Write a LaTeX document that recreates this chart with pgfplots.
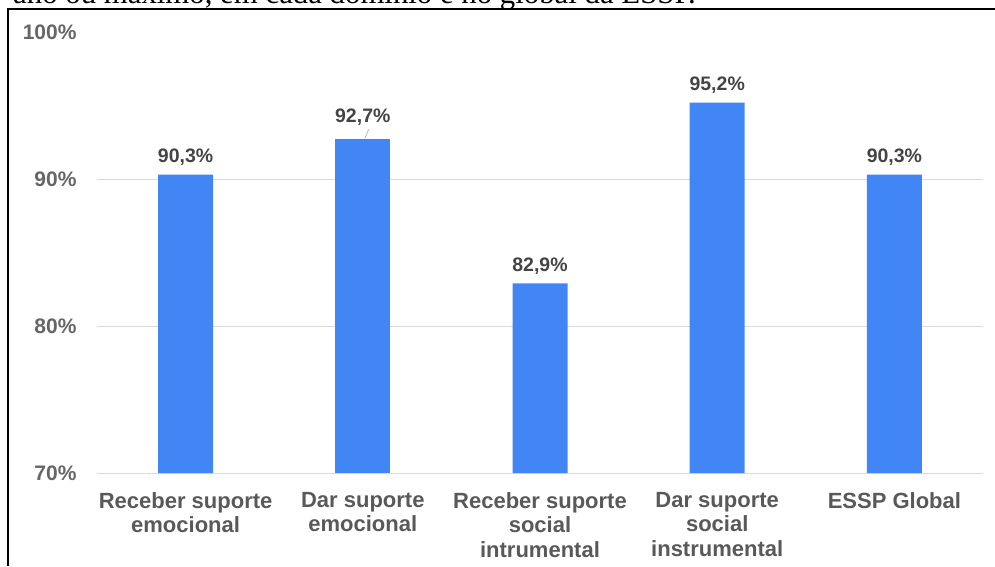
\documentclass[border=0pt]{standalone}
\usepackage{pgfplots}
\pgfplotsset{compat=1.18}
\usepackage{fontspec}
\setmainfont{Liberation Sans}
\newfontfamily\serifface{Liberation Serif}
\definecolor{barblue}{HTML}{4285F4}
\definecolor{tickgray}{HTML}{666666}
\definecolor{labgray}{HTML}{595959}
\definecolor{valgray}{HTML}{444444}
\definecolor{gridgray}{HTML}{D9D9D9}
\begin{document}
\begin{tikzpicture}[x=1pt,y=1pt]
\useasboundingbox (0,0) rectangle (995,566);
\node[anchor=base west, inner sep=0] at (13,562) {\serifface\fontsize{30.8}{34}\selectfont ano ou máximo, em cada domínio e no global da ESSP.};
\draw[line width=1.6pt] (8,0) -- (8,557) -- (995,557);
\begin{axis}[
  at={(97pt,93pt)}, anchor=south west,
  width=886pt, height=441pt, scale only axis,
  xmin=-0.5, xmax=4.5, ymin=70, ymax=100,
  axis line style={draw=none}, tick style={draw=none},
  major tick length=0pt,
  ymajorgrids, grid style={gridgray, line width=1pt},
  ytick={70,80,90}, yticklabels={70\%,80\%,90\%},
  extra y ticks={100}, extra y tick labels={100\%},
  extra y tick style={grid=none},
  yticklabel style={font=\fontsize{21}{23}\selectfont\bfseries, text=tickgray, anchor=east, xshift=-17pt},
  xtick={0,1,2,3,4},
  xticklabels={{Receber suporte\\emocional},{Dar suporte\\emocional},{Receber suporte\\social\\intrumental},{Dar suporte\\social\\instrumental},{ESSP Global}},
  xticklabel style={align=center, font=\fontsize{22}{24.3}\selectfont\bfseries, text=labgray, anchor=north, yshift=-16pt},
  clip=false,
]
\addplot[ybar, bar width=55pt, bar shift=0pt, fill=barblue, draw=none,
  nodes near coords, point meta=explicit symbolic,
  nodes near coords style={anchor=base, yshift=12pt, font=\fontsize{19.5}{22}\selectfont\bfseries, text=valgray}]
  coordinates {(0,90.3) [90,3\%] (2,82.9) [82,9\%] (3,95.2) [95,2\%] (4,90.3) [90,3\%]};
\addplot[ybar, bar width=55pt, bar shift=0pt, fill=barblue, draw=none,
  nodes near coords, point meta=explicit symbolic,
  nodes near coords style={anchor=base, yshift=17pt, font=\fontsize{19.5}{22}\selectfont\bfseries, text=valgray}]
  coordinates {(1,92.7) [92,7\%]};
\draw[gray!60, line width=0.8pt] ([xshift=2pt,yshift=1pt]axis cs:1,92.7) -- ([xshift=6pt,yshift=10pt]axis cs:1,92.7);
\end{axis}
\end{tikzpicture}
\end{document}
